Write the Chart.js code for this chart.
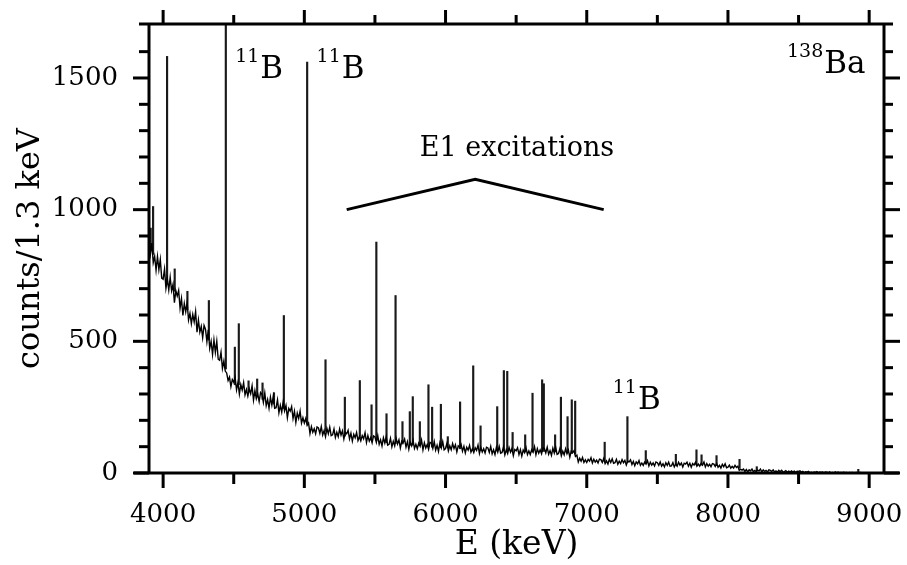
<!DOCTYPE html>
<html>
<head>
<meta charset="utf-8">
<script src="https://cdn.jsdelivr.net/npm/chart.js@4/dist/chart.umd.min.js"></script>
<style>
  html, body { margin: 0; padding: 0; background: #fff; }
  #wrap { width: 907px; height: 565px; }
</style>
</head>
<body>
<div id="wrap"><canvas id="spectrum"></canvas></div>
<script>
// spectrum background, one value every 10 keV starting at 3900 keV (one row = 100 keV)
const startE = 3900;
const stepE = 10;
const bgCounts = [
  881, 831, 873, 799, 823, 770, 822, 772, 811, 740,
  736, 774, 701, 736, 695, 743, 692, 716, 647, 692,
  672, 693, 626, 662, 598, 644, 612, 648, 581, 606,
  567, 602, 574, 613, 535, 581, 535, 557, 514, 560,
  546, 499, 544, 473, 500, 450, 505, 458, 500, 432,
  428, 459, 397, 425, 387, 380, 351, 364, 328, 355,
  345, 362, 316, 344, 300, 336, 315, 343, 297, 317,
  292, 319, 301, 331, 277, 313, 282, 300, 271, 306,
  299, 268, 304, 256, 279, 246, 288, 258, 291, 246,
  248, 278, 229, 257, 231, 269, 236, 256, 210, 245,
  235, 252, 207, 235, 192, 227, 207, 235, 190, 210,
  190, 207, 181, 190, 150, 176, 155, 168, 149, 175,
  171, 150, 176, 144, 161, 138, 169, 149, 174, 142,
  145, 167, 135, 155, 138, 167, 144, 160, 129, 155,
  149, 162, 130, 151, 121, 147, 134, 154, 123, 138,
  122, 142, 130, 153, 116, 142, 121, 134, 115, 141,
  137, 116, 142, 109, 126, 103, 134, 114, 138, 106,
  109, 132, 99, 120, 103, 132, 110, 126, 95, 121,
  116, 129, 98, 119, 90, 116, 103, 124, 93, 109,
  92, 113, 101, 125, 88, 115, 95, 108, 90, 116,
  113, 93, 119, 87, 105, 82, 114, 95, 119, 88,
  93, 113, 84, 103, 88, 112, 93, 107, 80, 103,
  98, 109, 83, 101, 76, 98, 87, 105, 79, 92,
  78, 96, 86, 106, 74, 97, 80, 92, 76, 98,
  95, 78, 101, 73, 88, 70, 97, 79, 101, 75,
  78, 98, 69, 88, 74, 97, 79, 93, 66, 89,
  84, 96, 70, 89, 64, 87, 77, 96, 70, 84,
  70, 88, 79, 100, 69, 92, 75, 88, 73, 96,
  93, 76, 98, 71, 85, 67, 94, 76, 98, 71,
  74, 93, 65, 83, 69, 92, 73, 87, 60, 83,
  77, 85, 63, 68, 42, 56, 45, 59, 40, 50,
  40, 52, 45, 58, 38, 52, 41, 49, 38, 53,
  51, 40, 55, 36, 46, 34, 52, 40, 54, 37,
  39, 52, 33, 45, 36, 51, 39, 48, 30, 45,
  42, 50, 32, 44, 28, 42, 35, 47, 29, 38,
  29, 41, 34, 47, 27, 41, 30, 38, 27, 42,
  39, 29, 42, 26, 35, 23, 39, 29, 41, 26,
  27, 39, 23, 34, 26, 41, 30, 38, 23, 37,
  34, 41, 26, 37, 22, 36, 30, 41, 26, 34,
  26, 37, 30, 42, 23, 36, 26, 33, 24, 36,
  34, 25, 36, 22, 29, 19, 33, 24, 35, 20,
  22, 30, 18, 25, 19, 29, 21, 26, 10, 14,
  11, 15, 6, 13, 4, 12, 8, 15, 5, 10,
  5, 11, 8, 15, 4, 12, 6, 10, 4, 12,
  10, 6, 12, 4, 8, 3, 10, 5, 10, 4,
  5, 9, 3, 7, 4, 8, 4, 7, 2, 7,
  6, 8, 3, 6, 1, 5, 3, 6, 1, 3,
  1, 4, 2, 5, 1, 4, 2, 4, 1, 4,
  3, 1, 4, 0, 2, 0, 4, 1, 4, 1,
  2, 1, 3, 1, 2, 0, 2, 1, 2, 0,
  1, 2, 0, 1, 2, 0, 1, 1, 0, 1,
  1
];

// gamma lines: energy, foot and top of each peak
const peakE    = [3912, 3929, 4028, 4082, 4172, 4324, 4444, 4508, 4536, 4605, 4666, 4704, 4785, 4855, 5020, 5150, 5287, 5393, 5476, 5510, 5582, 5646, 5695, 5747, 5768, 5818, 5879, 5905, 5967, 6016, 6103, 6196, 6248, 6366, 6413, 6437, 6475, 6564, 6616, 6684, 6696, 6776, 6817, 6864, 6894, 6918, 7127, 7288, 7418, 7631, 7777, 7813, 7919, 8082, 8204, 8923];
const peakBase = [850, 830, 720, 690, 620, 505, 395, 335, 335, 310, 290, 280, 262, 245, 190, 158, 140, 132, 126, 124, 115, 112, 110, 106, 106, 104, 100, 98, 96, 96, 92, 88, 86, 84, 84, 84, 82, 80, 80, 82, 82, 80, 78, 76, 74, 72, 44, 40, 37, 31, 31, 30, 28, 18, 8, 1];
const peakTop  = [930, 1012, 1582, 775, 690, 655, 1900, 478, 567, 350, 357, 342, 305, 598, 1560, 430, 288, 351, 259, 877, 225, 674, 195, 233, 290, 195, 335, 250, 261, 138, 270, 407, 179, 252, 389, 386, 154, 145, 303, 354, 339, 145, 288, 214, 278, 273, 117, 214, 85, 71, 88, 69, 66, 52, 24, 14];

// E1 bracket
const bracketE = [5300, 6210, 7120];
const bracketY = [1000, 1115, 1000];

// nucleus labels
const nucE    = [4510, 5087, 7184, 8418];
const nucY    = [1500, 1500, 244, 1519];
const nucMass = ["11", "11", "11", "138"];
const nucName = ["B", "B", "B", "Ba"];

const xTicks = [4000, 5000, 6000, 7000, 8000, 9000];
const xMinor = [4500, 5500, 6500, 7500, 8500];
const yTicks = [0, 500, 1000, 1500];
const yMinor = [100, 200, 300, 400, 600, 700, 800, 900, 1100, 1200, 1300, 1400, 1600];

const serif = "'DejaVu Serif', serif";

const bgPoints = bgCounts.map((c, i) => ({ x: startE + i * stepE, y: c }));
const peakPoints = peakE.map((e, i) => ({ x: e, y: [peakBase[i], peakTop[i]] }));
const bracketPoints = bracketE.map((e, i) => ({ x: e, y: bracketY[i] }));

const framePlugin = {
  id: "frame",
  afterDatasetsDraw(chart) {
    const { ctx, chartArea: a, scales } = chart;
    const x = scales.x, y = scales.y;
    ctx.save();
    ctx.strokeStyle = "#000";
    ctx.lineWidth = 3;
    ctx.lineCap = "butt";
    const seg = (x1, y1, x2, y2) => {
      ctx.beginPath();
      ctx.moveTo(x1, y1);
      ctx.lineTo(x2, y2);
      ctx.stroke();
    };
    seg(a.left, a.top, a.left, a.bottom);
    seg(a.right, a.top, a.right, a.bottom);
    seg(a.left - 15, a.bottom, a.right + 15, a.bottom);
    seg(a.left - 10, a.top, a.right + 9, a.top);

    xTicks.forEach((v) => {
      const px = x.getPixelForValue(v);
      seg(px, a.bottom, px, a.bottom + 15);
      seg(px, a.top, px, a.top - 14);
    });
    xMinor.forEach((v) => {
      const px = x.getPixelForValue(v);
      seg(px, a.bottom, px, a.bottom + 11);
      seg(px, a.top, px, a.top - 9);
    });
    yTicks.forEach((v) => {
      const py = y.getPixelForValue(v);
      seg(a.left, py, a.left - 16, py);
      seg(a.right, py, a.right + 16, py);
    });
    yMinor.forEach((v) => {
      const py = y.getPixelForValue(v);
      seg(a.left, py, a.left - 10, py);
      seg(a.right, py, a.right + 9, py);
    });

    // labels
    ctx.fillStyle = "#000";
    ctx.textBaseline = "alphabetic";
    ctx.textAlign = "left";
    nucE.forEach((e, i) => {
      const px = x.getPixelForValue(e);
      const py = y.getPixelForValue(nucY[i]);
      ctx.font = "19px " + serif;
      ctx.fillText(nucMass[i], px, py - 16);
      const w = ctx.measureText(nucMass[i]).width;
      ctx.font = "31px " + serif;
      ctx.fillText(nucName[i], px + w + 1, py);
    });
    ctx.textAlign = "center";
    ctx.font = "27px " + serif;
    ctx.fillText("E1 excitations", x.getPixelForValue(6506), y.getPixelForValue(1203));
    ctx.restore();
  },
};

new Chart(document.getElementById("spectrum"), {
  type: "line",
  data: {
    datasets: [
      {
        type: "line",
        data: bgPoints,
        borderColor: "#000",
        borderWidth: 1.4,
        pointRadius: 0,
        tension: 0,
      },
      {
        type: "bar",
        data: peakPoints,
        backgroundColor: "#1a1a1a",
        borderWidth: 0,
        barThickness: 1.5,
        grouped: false,
      },
      {
        type: "line",
        data: bracketPoints,
        borderColor: "#000",
        borderWidth: 3,
        pointRadius: 0,
        tension: 0,
      },
    ],
  },
  options: {
    responsive: true,
    maintainAspectRatio: false,
    animation: false,
    layout: { padding: { top: 24, right: 23, left: 0, bottom: 0 } },
    plugins: { legend: { display: false }, tooltip: { enabled: false } },
    scales: {
      x: {
        type: "linear",
        min: 3900,
        max: 9105,
        offset: false,
        grid: { display: false, drawTicks: true, tickLength: 15 },
        border: { display: false },
        ticks: {
          color: "#000",
          padding: 12,
          maxRotation: 0,
          autoSkip: false,
          font: { family: serif, size: 26 },
          callback: (v) => String(v),
        },
        afterBuildTicks: (s) => {
          s.ticks = xTicks.map((v) => ({ value: v }));
        },
        afterFit: (s) => {
          s.height = 92;
          s.paddingLeft = 0;
          s.paddingRight = 0;
        },
        title: {
          display: true,
          text: "E (keV)",
          color: "#000",
          font: { family: serif, size: 33 },
          padding: 0,
        },
      },
      y: {
        min: 0,
        max: 1705,
        grid: { display: false, drawTicks: true, tickLength: 16 },
        border: { display: false },
        ticks: {
          color: "#000",
          padding: 15,
          font: { family: serif, size: 26 },
          callback: (v) => String(v),
        },
        afterBuildTicks: (s) => {
          s.ticks = yTicks.map((v) => ({ value: v }));
        },
        afterFit: (s) => {
          s.width = 149;
          s.paddingTop = 0;
          s.paddingBottom = 0;
        },
        title: {
          display: true,
          text: "counts/1.3 keV",
          color: "#000",
          font: { family: serif, size: 32 },
          padding: { top: 11, bottom: 0 },
        },
      },
    },
  },
  plugins: [framePlugin],
});
</script>
</body>
</html>
